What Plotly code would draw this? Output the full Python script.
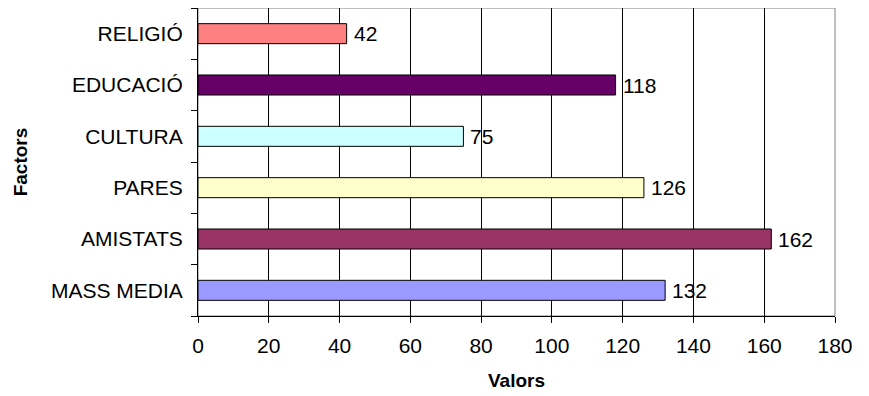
import plotly.graph_objects as go

categories = ["MASS MEDIA", "AMISTATS", "PARES", "CULTURA", "EDUCACIÓ", "RELIGIÓ"]
values = [132, 162, 126, 75, 118, 42]
colors = ["#9999FF", "#993366", "#FFFFCC", "#CCFFFF", "#660066", "#FF8080"]
x_ticks = [0, 20, 40, 60, 80, 100, 120, 140, 160, 180]

FONT = "Liberation Sans, Arial, sans-serif"

fig = go.Figure()
fig.add_trace(go.Bar(
    x=values, y=categories, orientation="h",
    marker=dict(color=colors, line=dict(color="black", width=1)),
    hoverinfo="skip",
))

for v, c in zip(values, categories):
    fig.add_annotation(x=v, y=c, text=str(v), showarrow=False,
                       xanchor="left", yanchor="middle", xshift=5,
                       font=dict(family=FONT, size=21, color="black"))

fig.add_shape(type="rect", xref="paper", yref="paper", x0=0, y0=0, x1=1, y1=1,
              line=dict(color="#808080", width=1), layer="below")

fig.update_layout(
    width=869, height=396,
    margin=dict(l=190, r=42, t=0, b=88, autoexpand=False),
    paper_bgcolor="white", plot_bgcolor="white",
    bargap=0.61,
    showlegend=False,
    font=dict(family=FONT, size=21, color="black"),
    xaxis=dict(
        range=[0, 180], tickvals=x_ticks, ticktext=[str(t) for t in x_ticks],
        showgrid=True, gridcolor="black", gridwidth=1,
        showline=True, linecolor="black", linewidth=1,
        ticks="outside", ticklen=6, tickcolor="black",
        zeroline=False, ticklabelstandoff=5,
        tickfont=dict(family=FONT, size=21),
        title=dict(text="<b>Valors</b>", font=dict(family=FONT, size=19), standoff=17),
    ),
    yaxis=dict(
        categoryorder="array", categoryarray=categories,
        showgrid=False,
        showline=True, linecolor="black", linewidth=1,
        ticks="outside", ticklen=6, tickcolor="black", tickson="boundaries",
        ticklabelstandoff=10,
        tickfont=dict(family=FONT, size=21),
        title=dict(text="<b>Factors</b>", font=dict(family=FONT, size=19), standoff=18),
    ),
)

fig.write_html("out.html")
